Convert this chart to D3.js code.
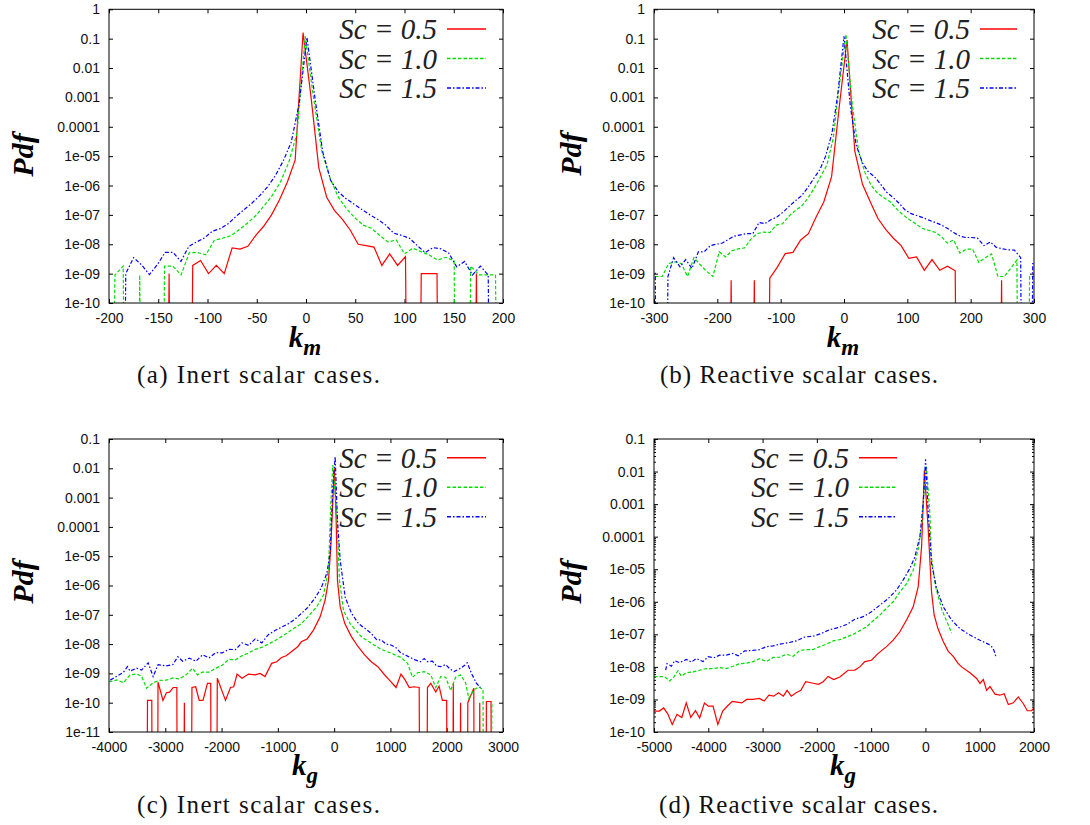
<!DOCTYPE html>
<html lang="en">
<head>
<meta charset="UTF-8">
<title>Pdf of k_m and k_g</title>
<script src="https://d3js.org/d3.v7.min.js"></script>
<style>
  body { margin: 0; background: #fff; }
  svg { display: block; }
  .tick text { font-family: "Liberation Sans", Arial, sans-serif; font-size: 14px; fill: #111; }
  .tick line { stroke: #000; }
</style>
</head>
<body>
<svg id="chart" width="1090" height="825"></svg>
<script>
// ---- data (k, pdf); 0 = empty bin, drawn as a drop below the axis ----
// (a) inert, k_m
const aSc05 = [[-147,0],[-139,1e-9],[-131,0],[-123,0],[-115,1.9e-9],[-107,2.8e-9],[-99,1e-9],[-91,1.9e-9],[-83,1e-9],[-75,7.5e-9],[-67,6.8e-9],[-59,8.5e-9],[-51,2e-8],[-43,4.1e-8],[-35,1e-7],[-27,3.2e-7],[-19,1.3e-6],[-11,7.3e-6],[-3,0.16],[5,1.1e-3],[13,4e-6],[21,4e-7],[29,1.4e-7],[37,7e-8],[45,3e-8],[53,1e-8],[61,9e-9],[69,8e-9],[77,1.9e-9],[85,4.7e-9],[93,1.9e-9],[101,3.8e-9],[109,0],[117,1e-9],[125,1e-9],[133,1e-9],[141,0],[149,0],[157,0],[165,0],[173,1e-9],[181,0]];
const aSc10 = [[-202.4,0],[-194,9e-10],[-185.6,1.8e-9],[-177.2,0],[-168.8,9e-10],[-160.4,0],[-152,0],[-143.6,1.8e-9],[-135.2,1.8e-9],[-126.8,9e-10],[-118.4,5.2e-9],[-110,5.2e-9],[-101.6,4.4e-9],[-93.2,1.35e-8],[-84.8,1.6e-8],[-76.4,1.95e-8],[-68,3.1e-8],[-59.6,5.2e-8],[-51.2,9.3e-8],[-42.8,2e-7],[-34.4,4.5e-7],[-26,1.3e-6],[-17.6,6e-6],[-9.2,6e-5],[-0.8,0.12],[7.6,1e-3],[16,1.5e-5],[24.4,1.8e-6],[32.8,4e-7],[41.2,1.6e-7],[49.6,8e-8],[58,4.5e-8],[66.4,3.5e-8],[74.8,2e-8],[83.2,1.2e-8],[91.6,1.4e-8],[100,4.7e-9],[108.4,7.3e-9],[116.8,5.6e-9],[125.2,4.3e-9],[133.6,2.9e-9],[142,3.6e-9],[150.4,2.7e-9],[158.8,0],[167.2,1.8e-9],[175.6,9e-10],[184,9e-10],[192.4,9e-10],[200.8,0]];
const aSc15 = [[-191,0],[-183,1e-9],[-175,3.5e-9],[-167,2e-9],[-159,9.3e-10],[-151,2e-9],[-143,5.3e-9],[-135,5.3e-9],[-127,2.6e-9],[-119,8.5e-9],[-111,1.2e-8],[-103,1.65e-8],[-95,2.8e-8],[-87,3.4e-8],[-79,5e-8],[-71,8.9e-8],[-63,1.5e-7],[-55,2.5e-7],[-47,4.5e-7],[-39,9e-7],[-31,2.2e-6],[-23,7e-6],[-15,3e-5],[-7,6e-4],[1,0.11],[9,1e-3],[17,1.4e-5],[25,1.5e-6],[33,6e-7],[41,3.5e-7],[49,2.3e-7],[57,1.5e-7],[65,1e-7],[73,7e-8],[81,4.5e-8],[89,2.4e-8],[97,2e-8],[105,1.6e-8],[113,9e-9],[121,5.2e-9],[129,7.7e-9],[137,7e-9],[145,5e-9],[153,1.7e-9],[161,2.6e-9],[169,9e-10],[177,1.8e-9],[185,9e-10],[193,0]];

// (b) reactive, k_m
const bSc05 = [[-190.4,0],[-178.2,6e-10],[-166,0],[-153.8,0],[-141.6,6e-10],[-129.4,0],[-117.2,7e-10],[-105,1.7e-9],[-92.8,4.8e-9],[-80.6,5.3e-9],[-68.4,1.4e-8],[-56.2,2.3e-8],[-44,8.5e-8],[-31.8,2.8e-7],[-19.6,2e-6],[-7.4,5e-4],[4.8,0.09],[17,1.5e-5],[29.2,1.1e-6],[41.4,2.8e-7],[53.6,7.5e-8],[65.8,3.2e-8],[78,1.6e-8],[90.2,9e-9],[102.4,3.3e-9],[114.6,3.7e-9],[126.8,1.3e-9],[139,3e-9],[151.2,1.3e-9],[163.4,1.8e-9],[175.6,1.25e-9],[187.8,0],[200,0],[212.2,0],[224.4,0],[236.6,0],[248.8,6e-10],[261,0]];
const bSc10 = [[-307,8e-10],[-297,8e-10],[-287,8e-10],[-277,2.2e-9],[-267,2.5e-9],[-257,2.2e-9],[-247,8e-10],[-237,3.5e-9],[-227,2e-9],[-217,1.2e-9],[-207,8e-10],[-197,5.5e-9],[-187,3.7e-9],[-177,6e-9],[-167,7e-9],[-157,7.5e-9],[-147,1.5e-8],[-137,2.3e-8],[-127,2.6e-8],[-117,2.5e-8],[-107,4.5e-8],[-97,5e-8],[-87,9e-8],[-77,1.4e-7],[-67,2e-7],[-57,3.7e-7],[-47,8e-7],[-37,2e-6],[-27,5e-6],[-17,4e-5],[-7,3e-3],[3,0.14],[13,6e-4],[23,1.5e-5],[33,2.8e-6],[43,1e-6],[53,5.5e-7],[63,3.8e-7],[73,2.8e-7],[83,1.6e-7],[93,1e-7],[103,7e-8],[113,5e-8],[123,3.5e-8],[133,3e-8],[143,2.6e-8],[153,1.9e-8],[163,1.1e-8],[173,1.4e-8],[183,5e-9],[193,6.8e-9],[203,6.8e-9],[213,2.4e-9],[223,3.5e-9],[233,4.7e-9],[243,8e-10],[253,8e-10],[263,1.5e-9],[273,2.9e-9],[283,0],[293,8e-10],[303,8e-10]];
const bSc15 = [[-307,1.1e-9],[-298,1.1e-9],[-288,0],[-278,8e-10],[-269,3.5e-9],[-259,1.7e-9],[-250,3e-9],[-240,1.5e-9],[-230,5.5e-9],[-221,5.5e-9],[-211,9e-9],[-202,1e-8],[-192,1.1e-8],[-182,1.5e-8],[-173,1.9e-8],[-163,2.1e-8],[-154,2.3e-8],[-144,2.3e-8],[-134,5.5e-8],[-125,5e-8],[-115,7e-8],[-106,8.5e-8],[-96,1.25e-7],[-86,2e-7],[-77,3e-7],[-67,4.5e-7],[-58,8e-7],[-48,1.7e-6],[-38,3.5e-6],[-29,1e-5],[-19,6e-5],[-10,1.2e-3],[0,0.12],[10,5e-4],[19,2.5e-5],[29,6e-6],[38,3e-6],[48,2e-6],[58,1.1e-6],[67,6e-7],[77,4e-7],[87,2.5e-7],[96,1.5e-7],[106,1.1e-7],[115,9.5e-8],[125,8e-8],[135,6.5e-8],[144,5.5e-8],[154,4.5e-8],[163,3.5e-8],[173,2.5e-8],[183,1.9e-8],[192,1.7e-8],[202,1.7e-8],[211,1.6e-8],[221,9e-9],[231,1.2e-8],[240,8e-9],[250,7e-9],[259,6.5e-9],[269,6.3e-9],[279,3.5e-9],[288,0],[298,2.2e-9],[307,2.2e-9]];

// (c) inert, k_g
const cSc05 = [[-3380,0],[-3316,1.2e-10],[-3240,1.2e-10],[-3180,0],[-3129,5e-10],[-3041,1.2e-10],[-2980,2.2e-10],[-2924,2.3e-10],[-2860,3.3e-10],[-2795,3.3e-10],[-2740,0],[-2661,1e-10],[-2600,0],[-2526,3.3e-10],[-2460,3.5e-10],[-2397,1.2e-10],[-2330,1.2e-10],[-2251,4.6e-10],[-2193,4.6e-10],[-2140,0],[-2076,6.8e-10],[-1930,1.2e-10],[-1842,3.3e-10],[-1784,3.5e-10],[-1725,9.5e-10],[-1637,6.8e-10],[-1520,9.5e-10],[-1403,8.9e-10],[-1316,1e-9],[-1228,7.8e-10],[-1111,2.2e-9],[-1020,2.5e-9],[-935,3.5e-9],[-850,4e-9],[-760,5.5e-9],[-643,8.3e-9],[-584,1.2e-8],[-480,1.5e-8],[-367,3e-8],[-249,8.5e-8],[-160,3.2e-7],[-101,1.5e-6],[-59,2.1e-5],[-12,2.3e-3],[6,0.01],[36,1.7e-4],[59,1.5e-6],[107,1.9e-7],[188,5.1e-8],[306,1.8e-8],[423,8.3e-9],[541,4.3e-9],[659,2.5e-9],[776,1.7e-9],[894,9e-10],[982,5.9e-10],[1100,3.3e-10],[1188,9.5e-10],[1260,6e-10],[1335,3.3e-10],[1420,3.5e-10],[1511,3.3e-10],[1580,0],[1658,3.3e-10],[1717,4.6e-10],[1805,2.3e-10],[1864,3.7e-10],[1923,1.2e-10],[1999,1.2e-10],[2060,0],[2117,4.6e-10],[2180,0],[2246,1e-10],[2310,0],[2375,1e-10],[2481,3.1e-10],[2530,0],[2587,1e-10],[2650,0],[2705,1.1e-10],[2787,1.1e-10],[2850,0]];
const cSc10 = [[-4000,5.3e-10],[-3977,5.2e-10],[-3860,6e-10],[-3743,4.8e-10],[-3626,8.9e-10],[-3509,9.5e-10],[-3421,8e-10],[-3333,3.1e-10],[-3216,4.8e-10],[-3099,5.8e-10],[-2982,5.9e-10],[-2865,7e-10],[-2748,6.5e-10],[-2631,8.9e-10],[-2514,1.5e-9],[-2427,8.9e-10],[-2339,1.1e-9],[-2222,1.1e-9],[-2105,1.5e-9],[-1988,1.9e-9],[-1871,3e-9],[-1754,2.9e-9],[-1637,4e-9],[-1520,5e-9],[-1403,6.6e-9],[-1286,7.7e-9],[-1169,1e-8],[-1052,1.3e-8],[-935,1.8e-8],[-818,2.5e-8],[-701,3.6e-8],[-584,4.9e-8],[-467,8.5e-8],[-308,1.9e-7],[-190,4.7e-7],[-101,3.3e-6],[-59,6.3e-4],[-24,0.013],[47,2.9e-4],[95,1.5e-6],[166,1.4e-7],[284,5e-8],[482,1.8e-8],[659,1.07e-8],[835,6.6e-9],[1011,4.9e-9],[1188,3.5e-9],[1305,2.2e-9],[1393,7.4e-10],[1482,1.05e-9],[1600,1.15e-9],[1717,8.9e-10],[1805,3.3e-10],[1893,7.8e-10],[1981,7.4e-10],[2070,2.6e-10],[2158,7.4e-10],[2246,8.9e-10],[2334,4.8e-10],[2393,1.4e-10],[2481,2.7e-10],[2569,3.5e-10],[2645,2.8e-10],[2700,0],[2803,1.1e-10]];
const cSc15 = [[-3977,5.9e-10],[-3860,8e-10],[-3743,1.1e-9],[-3673,1.7e-9],[-3626,1.2e-9],[-3509,1.5e-9],[-3421,1.3e-9],[-3304,2.3e-9],[-3216,7.8e-10],[-3128,2e-9],[-2982,1.8e-9],[-2865,2e-9],[-2778,3.7e-9],[-2690,2.6e-9],[-2573,3.3e-9],[-2456,2.6e-9],[-2339,4.3e-9],[-2222,3.4e-9],[-2105,5.1e-9],[-1988,5e-9],[-1871,6.6e-9],[-1754,6.5e-9],[-1637,1.1e-8],[-1520,9e-9],[-1403,1.5e-8],[-1286,1.1e-8],[-1169,2.1e-8],[-1052,2.9e-8],[-935,3.8e-8],[-818,4.9e-8],[-701,7e-8],[-584,1.1e-7],[-467,1.8e-7],[-350,3.5e-7],[-233,8e-7],[-130,2.6e-6],[-71,1.3e-5],[-24,2.3e-3],[18,0.025],[59,1.7e-4],[107,7.4e-6],[196,4e-7],[306,1.15e-7],[433,5e-8],[551,3.4e-8],[659,2.3e-8],[759,1.4e-8],[835,1.4e-8],[923,1e-8],[1011,9.3e-9],[1100,7.5e-9],[1188,4.9e-9],[1270,4.2e-9],[1350,3.5e-9],[1440,2.9e-9],[1530,2.5e-9],[1600,3.2e-9],[1658,2.5e-9],[1745,2.6e-9],[1820,1.8e-9],[1893,1.7e-9],[1980,2e-9],[2060,1.4e-9],[2129,1.15e-9],[2246,1.5e-9],[2320,1.9e-9],[2364,2.3e-9],[2452,9e-10],[2528,4.6e-10],[2599,3.3e-10]];

// (d) reactive, k_g
const dSc05 = [[-5011,4.4e-10],[-4900,4.4e-10],[-4823,5.5e-10],[-4747,3.6e-10],[-4664,1.7e-10],[-4576,3.5e-10],[-4488,2.8e-10],[-4406,7.9e-10],[-4323,2.8e-10],[-4235,4.5e-10],[-4159,2.7e-10],[-4071,7.8e-10],[-4000,6.2e-10],[-3912,6.2e-10],[-3824,1.7e-10],[-3735,4.4e-10],[-3647,6.3e-10],[-3559,8.7e-10],[-3471,8.3e-10],[-3382,7.8e-10],[-3294,1e-9],[-3177,1e-9],[-3059,1.07e-9],[-2971,8.9e-10],[-2883,1.35e-9],[-2794,1.26e-9],[-2706,1.6e-9],[-2618,1.26e-9],[-2548,1.9e-9],[-2471,1.26e-9],[-2383,1.6e-9],[-2294,1.9e-9],[-2206,3.5e-9],[-2089,3.2e-9],[-1971,2.9e-9],[-1883,3.5e-9],[-1794,5.1e-9],[-1689,4.1e-9],[-1577,4.9e-9],[-1424,7.9e-9],[-1300,8e-9],[-1209,1e-8],[-1116,1.45e-8],[-994,1.6e-8],[-870,2.6e-8],[-717,4.2e-8],[-594,6.6e-8],[-471,1.2e-7],[-348,2.75e-7],[-225,7e-7],[-133,2.9e-6],[-71,4.9e-5],[-41,1e-3],[-20,0.011],[52,1.6e-4],[113,2e-6],[160,4e-7],[230,1.5e-7],[328,6e-8],[421,3e-8],[512,2.1e-8],[597,1.3e-8],[666,1e-8],[820,6.6e-9],[943,4.4e-9],[1004,3.1e-9],[1066,4.1e-9],[1127,1.9e-9],[1189,2.5e-9],[1281,1.45e-9],[1373,1.35e-9],[1450,1.5e-9],[1527,7e-10],[1619,7.9e-10],[1711,1.2e-9],[1804,7.4e-10],[1877,4.5e-10],[1957,4.5e-10],[2000,5.6e-10],[2040,6e-10]];
const dSc10 = [[-5000,5e-9],[-4900,5e-9],[-4804,5e-9],[-4711,3.7e-9],[-4630,5e-9],[-4558,7.6e-9],[-4497,5.2e-9],[-4404,6.6e-9],[-4281,7e-9],[-4158,7.9e-9],[-4035,8.9e-9],[-3913,8.9e-9],[-3790,9.5e-9],[-3667,8.9e-9],[-3544,1.05e-8],[-3421,1.26e-8],[-3298,1.3e-8],[-3175,1.45e-8],[-3052,1.8e-8],[-2929,1.45e-8],[-2806,1.95e-8],[-2683,2e-8],[-2561,2.45e-8],[-2438,2.1e-8],[-2315,3.2e-8],[-2192,3.4e-8],[-2069,3.4e-8],[-1946,4.2e-8],[-1823,5e-8],[-1700,6.3e-8],[-1577,6.9e-8],[-1454,8.3e-8],[-1332,1e-7],[-1209,1.3e-7],[-1086,1.7e-7],[-963,2.6e-7],[-840,3.9e-7],[-717,6.3e-7],[-594,1e-6],[-471,2e-6],[-348,3.6e-6],[-225,9.3e-6],[-135,4e-5],[-71,2e-4],[-28,2.1e-3],[21,0.014],[82,5e-4],[110,2.4e-5],[187,2.9e-6],[304,5.6e-7],[421,1.95e-7],[482,1.1e-7]];
const dSc15 = [[-4785,7.9e-9],[-4760,1.26e-8],[-4680,1.05e-8],[-4619,1.55e-8],[-4529,1.35e-8],[-4404,1.7e-8],[-4312,1.4e-8],[-4220,1.8e-8],[-4097,1.45e-8],[-4004,2.05e-8],[-3900,1.9e-8],[-3790,2.3e-8],[-3667,2.3e-8],[-3544,2.6e-8],[-3450,2.2e-8],[-3329,3.1e-8],[-3175,3.2e-8],[-3052,3.4e-8],[-2929,4.2e-8],[-2806,4.4e-8],[-2683,5e-8],[-2530,5.5e-8],[-2376,6.3e-8],[-2223,8.3e-8],[-2069,8.7e-8],[-1915,1.07e-7],[-1762,1.4e-7],[-1608,1.6e-7],[-1454,2e-7],[-1300,2.9e-7],[-1147,3.5e-7],[-994,4.9e-7],[-840,7.9e-7],[-686,1.26e-6],[-532,2.3e-6],[-409,4.7e-6],[-287,1.05e-5],[-194,2.4e-5],[-102,1e-4],[-41,1.05e-3],[2,0.024],[52,5.2e-4],[113,1.5e-5],[205,2.6e-6],[328,7e-7],[482,2.75e-7],[635,1.5e-7],[820,9.5e-8],[1004,6.6e-8],[1158,5e-8],[1220,4.2e-8],[1263,3.2e-8],[1300,2e-8]];

// ---- ticks, labels ----
const xTicksA = [-200, -150, -100, -50, 0, 50, 100, 150, 200];
const xTicksB = [-300, -200, -100, 0, 100, 200, 300];
const xTicksC = [-4000, -3000, -2000, -1000, 0, 1000, 2000, 3000];
const xTicksD = [-5000, -4000, -3000, -2000, -1000, 0, 1000, 2000];
const yTicksAB = [1, 0.1, 0.01, 1e-3, 1e-4, 1e-5, 1e-6, 1e-7, 1e-8, 1e-9, 1e-10];
const yLabelsAB = ["1", "0.1", "0.01", "0.001", "0.0001", "1e-05", "1e-06", "1e-07", "1e-08", "1e-09", "1e-10"];
const yTicksC = [0.1, 0.01, 1e-3, 1e-4, 1e-5, 1e-6, 1e-7, 1e-8, 1e-9, 1e-10, 1e-11];
const yLabelsC = ["0.1", "0.01", "0.001", "0.0001", "1e-05", "1e-06", "1e-07", "1e-08", "1e-09", "1e-10", "1e-11"];
const yTicksD = [0.1, 0.01, 1e-3, 1e-4, 1e-5, 1e-6, 1e-7, 1e-8, 1e-9, 1e-10];
const yLabelsD = ["0.1", "0.01", "0.001", "0.0001", "1e-05", "1e-06", "1e-07", "1e-08", "1e-09", "1e-10"];
const legendLabels = ["Sc = 0.5", "Sc = 1.0", "Sc = 1.5"];
const captions = ["(a) Inert scalar cases.", "(b) Reactive scalar cases.", "(c) Inert scalar cases.", "(d) Reactive scalar cases."];

const styles = [
    { color: "#ff0000", dash: null },
    { color: "#00dd00", dash: "3.5,2" },
    { color: "#0000ff", dash: "4,2,1.5,2" }
];

const panels = [
    { id: "a", left: 109, right: 503, top: 9.3, bottom: 303, xDomain: [-200, 200], yDomain: [1e-10, 1],
      xTicks: xTicksA, yTicks: yTicksAB, yLabels: yLabelsAB, series: [aSc05, aSc10, aSc15],
      leg: { right: 437, x1: 447, x2: 486, y0: 29 }, sub: "m", kX: 305, kY: 347, pdfX: 33, pdfY: 155,
      caption: captions[0], capX: 258.5, capY: 383, capW: 243, minor: false },
    { id: "b", left: 654, right: 1034, top: 9.3, bottom: 303, xDomain: [-300, 300], yDomain: [1e-10, 1],
      xTicks: xTicksB, yTicks: yTicksAB, yLabels: yLabelsAB, series: [bSc05, bSc10, bSc15],
      leg: { right: 970, x1: 980, x2: 1017, y0: 29 }, sub: "m", kX: 843, kY: 347, pdfX: 581, pdfY: 154,
      caption: captions[1], capX: 799, capY: 383, capW: 278, minor: false },
    { id: "c", left: 109, right: 503, top: 439, bottom: 732, xDomain: [-4000, 3000], yDomain: [1e-11, 0.1],
      xTicks: xTicksC, yTicks: yTicksC, yLabels: yLabelsC, series: [cSc05, cSc10, cSc15],
      leg: { right: 437, x1: 447, x2: 486, y0: 457.7 }, sub: "g", kX: 305, kY: 775, pdfX: 33, pdfY: 582,
      caption: captions[2], capX: 258.5, capY: 813, capW: 243, minor: false },
    { id: "d", left: 654, right: 1034, top: 439, bottom: 732, xDomain: [-5000, 2000], yDomain: [1e-10, 0.1],
      xTicks: xTicksD, yTicks: yTicksD, yLabels: yLabelsD, series: [dSc05, dSc10, dSc15],
      leg: { right: 849, x1: 859, x2: 897, y0: 457.7 }, sub: "g", kX: 843, kY: 775, pdfX: 581, pdfY: 582,
      caption: captions[3], capX: 798.5, capY: 813, capW: 279, minor: true }
];

const svg = d3.select("#chart");

function drawPanel(p) {
    const g = svg.append("g").attr("class", "panel-" + p.id);
    const x = d3.scaleLinear().domain(p.xDomain).range([p.left, p.right]);
    const y = d3.scaleLog().domain(p.yDomain).range([p.bottom, p.top]);

    svg.append("clipPath").attr("id", "clip-" + p.id)
        .append("rect")
        .attr("x", p.left).attr("y", p.top)
        .attr("width", p.right - p.left).attr("height", p.bottom - p.top);

    const yLabel = d => p.yLabels[p.yTicks.indexOf(d)];

    // minor log ticks (only panel d shows them)
    if (p.minor) {
        const minorTicks = [];
        p.yTicks.forEach(t => {
            for (let m = 2; m <= 9; m++) {
                const v = t * m;
                if (v < p.yDomain[1]) minorTicks.push(v);
            }
        });
        g.append("g").attr("transform", "translate(" + p.left + ",0)")
            .call(d3.axisLeft(y).tickValues(minorTicks).tickFormat("").tickSizeInner(-2).tickSizeOuter(0))
            .call(a => a.select(".domain").remove());
        g.append("g").attr("transform", "translate(" + p.right + ",0)")
            .call(d3.axisRight(y).tickValues(minorTicks).tickFormat("").tickSizeInner(-2).tickSizeOuter(0))
            .call(a => a.select(".domain").remove());
    }

    g.append("g").attr("transform", "translate(" + p.left + ",0)")
        .call(d3.axisLeft(y).tickValues(p.yTicks).tickFormat(yLabel).tickSizeInner(-4).tickSizeOuter(0).tickPadding(9))
        .call(a => a.select(".domain").remove());
    g.append("g").attr("transform", "translate(" + p.right + ",0)")
        .call(d3.axisRight(y).tickValues(p.yTicks).tickFormat("").tickSizeInner(-4).tickSizeOuter(0))
        .call(a => a.select(".domain").remove());
    g.append("g").attr("transform", "translate(0," + p.bottom + ")")
        .call(d3.axisBottom(x).tickValues(p.xTicks).tickFormat(d => String(d)).tickSizeInner(-4).tickSizeOuter(0).tickPadding(10))
        .call(a => a.select(".domain").remove());
    g.append("g").attr("transform", "translate(0," + p.top + ")")
        .call(d3.axisTop(x).tickValues(p.xTicks).tickFormat("").tickSizeInner(-4).tickSizeOuter(0))
        .call(a => a.select(".domain").remove());

    // curves
    const line = d3.line()
        .x(d => x(d[0]))
        .y(d => d[1] > 0 ? y(d[1]) : y(1e-40));

    const plot = g.append("g").attr("clip-path", "url(#clip-" + p.id + ")");
    p.series.forEach((s, i) => {
        plot.append("path")
            .datum(s)
            .attr("d", line)
            .attr("fill", "none")
            .attr("stroke", styles[i].color)
            .attr("stroke-width", 1.2)
            .attr("stroke-dasharray", styles[i].dash);
    });

    // frame
    g.append("rect")
        .attr("x", p.left).attr("y", p.top)
        .attr("width", p.right - p.left).attr("height", p.bottom - p.top)
        .attr("fill", "none").attr("stroke", "#000").attr("stroke-width", 1);

    // legend
    legendLabels.forEach((lab, i) => {
        const ly = p.leg.y0 + i * 29.5;
        g.append("text")
            .attr("x", p.leg.right).attr("y", ly + 10)
            .attr("text-anchor", "end")
            .style("font-family", "'Liberation Serif', 'Times New Roman', serif")
            .style("font-style", "italic")
            .style("font-size", "29px")
            .attr("fill", "#222")
            .text(lab);
        g.append("line")
            .attr("x1", p.leg.x1).attr("x2", p.leg.x2)
            .attr("y1", ly).attr("y2", ly)
            .attr("stroke", styles[i].color)
            .attr("stroke-width", 1.4)
            .attr("stroke-dasharray", styles[i].dash);
    });

    // axis titles
    g.append("text")
        .attr("transform", "translate(" + p.pdfX + "," + p.pdfY + ") rotate(-90)")
        .attr("text-anchor", "middle")
        .style("font-family", "'Liberation Serif', 'Times New Roman', serif")
        .style("font-style", "italic").style("font-weight", "bold")
        .style("font-size", "30px")
        .text("Pdf");

    const kt = g.append("text")
        .attr("x", p.kX).attr("y", p.kY)
        .attr("text-anchor", "middle")
        .style("font-family", "'Liberation Serif', 'Times New Roman', serif")
        .style("font-style", "italic").style("font-weight", "bold")
        .style("font-size", "29px");
    kt.append("tspan").text("k");
    kt.append("tspan").attr("dy", 8).style("font-size", "23px").text(p.sub);

    // caption
    g.append("text")
        .attr("x", p.capX).attr("y", p.capY)
        .attr("text-anchor", "middle")
        .attr("textLength", p.capW).attr("lengthAdjust", "spacing")
        .style("font-family", "'Liberation Serif', 'Times New Roman', serif")
        .style("font-size", "25px")
        .attr("fill", "#111")
        .text(p.caption);
}

panels.forEach(drawPanel);
</script>
</body>
</html>
